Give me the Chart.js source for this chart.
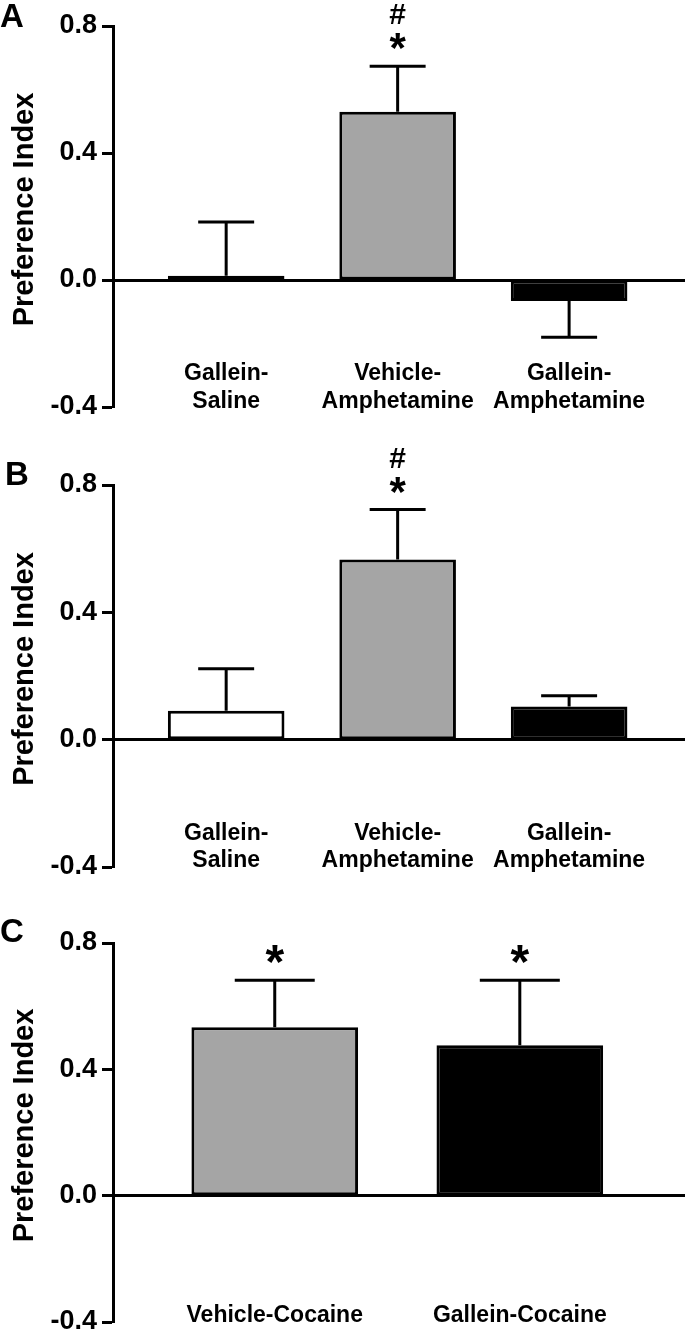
<!DOCTYPE html>
<html>
<head>
<meta charset="utf-8">
<script src="https://cdn.jsdelivr.net/npm/chart.js@4.4.0/dist/chart.umd.min.js"></script>
<style>
  html, body { margin: 0; padding: 0; background: #fff; overflow: hidden; }
  body { width: 685px; height: 1332px; position: relative; }
  canvas { position: absolute; left: 0; }
</style>
</head>
<body>
<canvas id="panelA" width="685" height="460" style="top:0px"></canvas>
<canvas id="panelB" width="685" height="480" style="top:440px"></canvas>
<canvas id="panelC" width="685" height="480" style="top:900px"></canvas>
<script>
// groups
const amphLabels = [['Gallein-', 'Saline'], ['Vehicle-', 'Amphetamine'], ['Gallein-', 'Amphetamine']];
const cocaineLabels = ['Vehicle-Cocaine', 'Gallein-Cocaine'];

// panel A
const meansA = [0.013, 0.53, -0.066];
const semA = [0.17, 0.143, 0.114];
const marksA = [[], ['#', '*'], []];

// panel B
const meansB = [0.091, 0.566, 0.104];
const semB = [0.132, 0.157, 0.034];
const marksB = [[], ['#', '*'], []];

// panel C
const meansC = [0.533, 0.476];
const semC = [0.149, 0.206];
const marksC = [['*'], ['*']];

const yTicks = [-0.4, 0.0, 0.4, 0.8];
const yTitle = 'Preference Index';

const FONT = '"Liberation Sans", Arial, sans-serif';
const GRAY = '#a5a5a5';

// error bars + significance marks, drawn on top of the bars
const errorBars = {
  id: 'errorBars',
  afterDatasetsDraw(chart, args, opts) {
    const ctx = chart.ctx;
    const y = chart.scales.y;
    const meta = chart.getDatasetMeta(0);
    ctx.save();
    ctx.strokeStyle = '#000';
    ctx.fillStyle = '#000';
    ctx.lineWidth = 3;
    meta.data.forEach((bar, i) => {
      const v = opts.means[i];
      const end = v >= 0 ? v + opts.sems[i] : v - opts.sems[i];
      const yEnd = y.getPixelForValue(end);
      const half = bar.width * 0.24;
      ctx.beginPath();
      ctx.moveTo(bar.x, bar.y);
      ctx.lineTo(bar.x, yEnd);
      ctx.moveTo(bar.x - half, yEnd);
      ctx.lineTo(bar.x + half, yEnd);
      ctx.stroke();

      // stack marks upward from the cap
      let bottom = yEnd - 17;
      const lines = opts.marks[i].slice().reverse();
      lines.forEach(txt => {
        const size = txt === '*' ? opts.starSize : opts.hashSize;
        ctx.font = 'bold ' + size + 'px ' + FONT;
        ctx.textAlign = 'center';
        ctx.textBaseline = 'alphabetic';
        const m = ctx.measureText(txt);
        ctx.fillText(txt, bar.x, bottom - m.actualBoundingBoxDescent);
        bottom -= (m.actualBoundingBoxAscent + m.actualBoundingBoxDescent) + 9;
      });
    });
    ctx.restore();
  }
};

// panel letter and rotated axis title
const panelText = {
  id: 'panelText',
  afterDraw(chart, args, opts) {
    const ctx = chart.ctx;
    const area = chart.chartArea;
    ctx.save();
    ctx.fillStyle = '#000';
    ctx.textBaseline = 'alphabetic';
    ctx.textAlign = 'left';
    ctx.font = 'bold 33px ' + FONT;
    ctx.fillText(opts.letter, opts.letterX, opts.letterY);

    ctx.font = 'bold 29px ' + FONT;
    ctx.textAlign = 'center';
    ctx.translate(33, (area.top + area.bottom) / 2 - 7);
    ctx.rotate(-Math.PI / 2);
    ctx.fillText(yTitle, 0, 0);
    ctx.restore();
  }
};

function makePanel(id, cfg) {
  const n = cfg.labels.length;
  return new Chart(document.getElementById(id), {
    type: 'bar',
    data: {
      datasets: [{
        data: cfg.means.map((v, i) => ({ x: i + 1, y: v })),
        backgroundColor: cfg.fills,
        borderColor: '#000',
        borderWidth: 3,
        borderSkipped: false,
        barPercentage: 0.68,
        categoryPercentage: 1.0
      }]
    },
    options: {
      responsive: false,
      animation: false,
      events: [],
      layout: { padding: { left: 0, right: 1, top: cfg.top, bottom: cfg.bottom } },
      plugins: {
        legend: { display: false },
        tooltip: { enabled: false },
        errorBars: { means: cfg.means, sems: cfg.sems, marks: cfg.marks, starSize: cfg.starSize, hashSize: 30 },
        panelText: { letter: cfg.letter, letterX: cfg.letterX, letterY: cfg.letterY }
      },
      scales: {
        x: {
          type: 'linear',
          min: 1 - 0.66,
          max: n + 0.67,
          offset: false,
          position: { y: 0 },
          afterBuildTicks: s => { s.ticks = cfg.labels.map((l, i) => ({ value: i + 1 })); },
          afterFit: s => { s.paddingLeft = 0; s.paddingRight = 0; },
          ticks: {
            callback: (v, i) => cfg.labels[i],
            autoSkip: false,
            maxRotation: 0,
            minRotation: 0,
            padding: cfg.labelPad,
            color: '#000',
            font: { family: FONT, size: 23, weight: 'bold' }
          },
          grid: { display: false, drawTicks: false, offset: false },
          border: { display: true, width: 3, color: '#000' }
        },
        y: {
          min: -0.4,
          max: 0.8,
          afterBuildTicks: s => { s.ticks = yTicks.map(v => ({ value: v })); },
          afterFit: s => { s.width = 113; },
          ticks: {
            callback: v => v.toFixed(1),
            color: '#000',
            padding: 5,
            font: { family: FONT, size: 27, weight: 'bold' }
          },
          grid: { display: true, drawOnChartArea: false, drawTicks: true, tickLength: 11, tickWidth: 3, tickColor: '#000' },
          border: { display: true, width: 3, color: '#000' }
        }
      }
    },
    plugins: [errorBars, panelText]
  });
}

makePanel('panelA', {
  labels: amphLabels, means: meansA, sems: semA, marks: marksA,
  fills: ['#ffffff', GRAY, '#000000'],
  top: 26, bottom: 53, labelPad: 80, starSize: 42,
  letter: 'A', letterX: 0, letterY: 27
});
makePanel('panelB', {
  labels: amphLabels, means: meansB, sems: semB, marks: marksB,
  fills: ['#ffffff', GRAY, '#000000'],
  top: 45, bottom: 53, labelPad: 80, starSize: 42,
  letter: 'B', letterX: 5, letterY: 45
});
makePanel('panelC', {
  labels: cocaineLabels, means: meansC, sems: semC, marks: marksC,
  fills: [GRAY, '#000000'],
  top: 43, bottom: 58, labelPad: 106, starSize: 48,
  letter: 'C', letterX: 0, letterY: 42
});
</script>
</body>
</html>
